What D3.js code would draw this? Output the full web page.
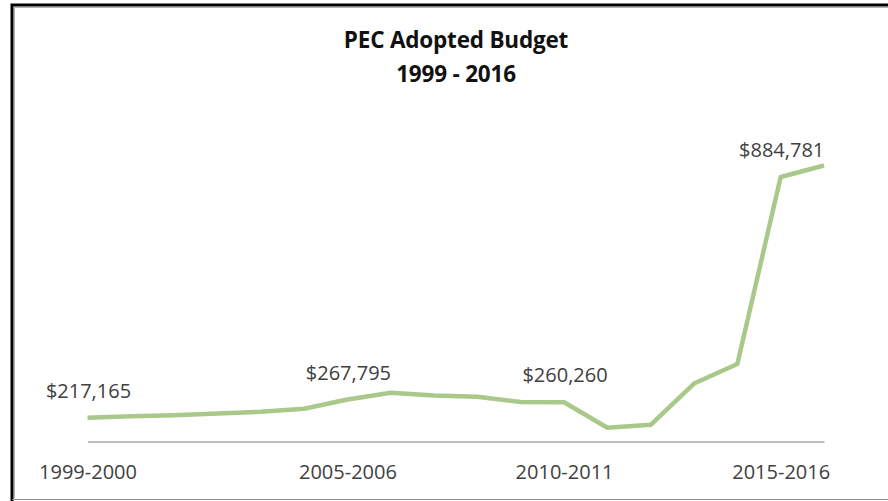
<!DOCTYPE html>
<html>
<head>
<meta charset="utf-8">
<script src="https://cdn.jsdelivr.net/npm/d3@7"></script>
<style>
  body { margin: 0; background: #fff; }
  svg { display: block; font-family: 'Open Sans', sans-serif; }
</style>
</head>
<body>
<div id="chart"></div>
<script>
'use strict';

// Chart data
const categories = [
    '1999-2000', '2000-2001', '2001-2002', '2002-2003', '2003-2004', '2004-2005',
    '2005-2006', '2006-2007', '2007-2008', '2008-2009', '2009-2010', '2010-2011',
    '2011-2012', '2012-2013', '2013-2014', '2014-2015', '2015-2016', '2016-2017'
];
const budget = [
    217165, 221600, 224400, 229100, 233800, 242100,
    267795, 286400, 278900, 275300, 261200, 260260,
    189500, 197800, 312200, 366200, 884781, 916900
];
const tickLabels = ['1999-2000', '2005-2006', '2010-2011', '2015-2016'];
const labelIdx = [0, 6, 11, 16];
const titleLines = ['PEC Adopted Budget', '1999 - 2016'];

const settings = {
    width: 888,
    height: 501,
    elId: '#chart'
};

const svg = d3.select(settings.elId)
    .append('svg')
    .attr('width', settings.width)
    .attr('height', settings.height);

// Frame (black edge with grey inner shadow)
svg.append('path')
    .attr('d', 'M12,501 V5 H888')
    .attr('fill', 'none')
    .attr('stroke', '#000')
    .attr('stroke-width', 3);
svg.append('path')
    .attr('d', 'M14.5,498.5 V7.5 H888')
    .attr('fill', 'none')
    .attr('stroke', '#b0b0b0')
    .attr('stroke-width', 1);
svg.append('line')
    .attr('x1', 12).attr('x2', 888)
    .attr('y1', 499.5).attr('y2', 499.5)
    .attr('stroke', '#8c8c8c');

// Title
svg.append('g')
    .selectAll('text')
    .data(titleLines)
    .enter()
    .append('text')
    .text(d => d)
    .attr('x', 456)
    .attr('y', (_, i) => 48 + i * 34)
    .attr('text-anchor', 'middle')
    .attr('font-weight', 'bold')
    .attr('font-size', '22.5px')
    .attr('letter-spacing', '-0.2px')
    .attr('fill', '#111');

// Scales
const x = d3.scalePoint()
    .domain(categories)
    .range([87.5, 824]);

const y = d3.scaleLinear()
    .domain([150000, 1000000])
    .range([442, 135.5]);

// X axis
const xAxis = svg.append('g')
    .attr('transform', 'translate(0,441.5)')
    .call(d3.axisBottom(x).tickValues(tickLabels).tickSize(0).tickSizeOuter(0));

xAxis.select('.domain')
    .attr('stroke', '#a6a6a6')
    .attr('stroke-width', 1.3);

xAxis.selectAll('text')
    .attr('y', 23)
    .attr('font-size', '20px')
    .attr('font-family', "'Open Sans', sans-serif")
    .attr('fill', '#404040');

// Line
const line = d3.line()
    .x((_, i) => x(categories[i]))
    .y(d => y(d));

svg.append('path')
    .datum(budget)
    .attr('d', line)
    .attr('fill', 'none')
    .attr('stroke', '#a8c98a')
    .attr('stroke-width', 4.5)
    .attr('stroke-linejoin', 'round')
    .attr('stroke-linecap', 'butt');

// Data labels
svg.append('g')
    .selectAll('text')
    .data(labelIdx)
    .enter()
    .append('text')
    .text(i => '$' + d3.format(',')(budget[i]))
    .attr('x', i => x(categories[i]) + 1)
    .attr('y', i => y(budget[i]) - 20)
    .attr('text-anchor', 'middle')
    .attr('font-size', '20px')
    .attr('fill', '#404040');
</script>
</body>
</html>
